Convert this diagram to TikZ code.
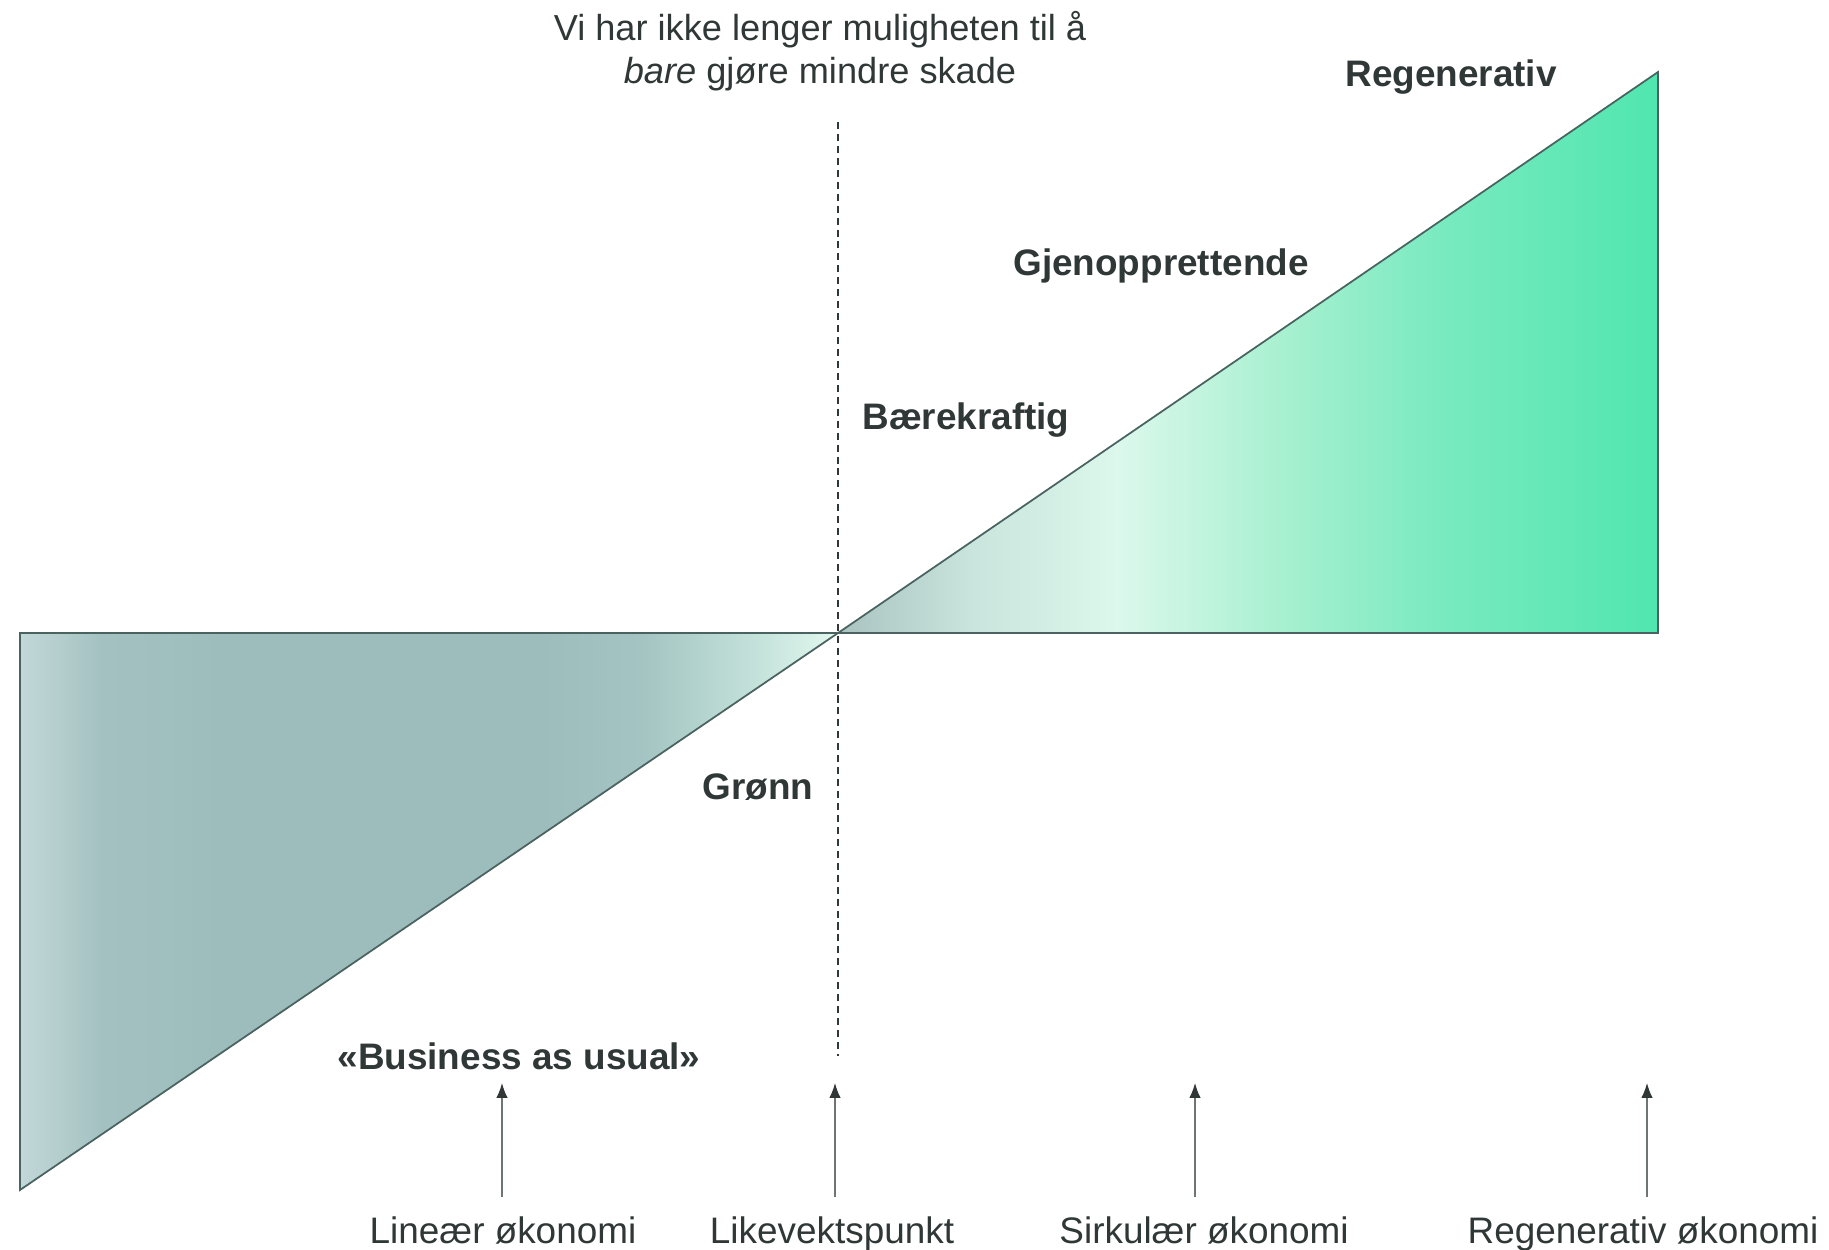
\documentclass[tikz,border=0pt]{standalone}
\usepackage{fontspec}
\setmainfont{Liberation Sans}
\usepackage{xcolor}
\usetikzlibrary{arrows.meta}

\definecolor{edgecol}{HTML}{4A6361}
\definecolor{inkcol}{HTML}{2F3836}
\definecolor{stemcol}{HTML}{6E7674}
\definecolor{lgA}{HTML}{C3D8D8}
\definecolor{lgB}{HTML}{A4C1C1}
\definecolor{lgC}{HTML}{9DBDBD}
\definecolor{lgD}{HTML}{A3C4C2}
\definecolor{lgE}{HTML}{C4E2DA}
\definecolor{lgF}{HTML}{E2F8EF}
\definecolor{rgA}{HTML}{A9C3C0}
\definecolor{rgB}{HTML}{C8E4DC}
\definecolor{rgC}{HTML}{DCF8EC}
\definecolor{rgD}{HTML}{A8F0D0}
\definecolor{rgE}{HTML}{78EAC0}
\definecolor{rgF}{HTML}{50E6AF}

\pgfdeclarehorizontalshading{leftfade}{100bp}{color(0bp)=(lgA); color(25bp)=(lgA);
  color(30bp)=(lgB); color(37bp)=(lgC); color(57bp)=(lgC); color(63bp)=(lgD);
  color(70bp)=(lgE); color(75bp)=(lgF); color(100bp)=(lgF)}
\pgfdeclarehorizontalshading{rightfade}{100bp}{color(0bp)=(rgA); color(25bp)=(rgA);
  color(33bp)=(rgB); color(42bp)=(rgC); color(52bp)=(rgD); color(62bp)=(rgE);
  color(75bp)=(rgF); color(100bp)=(rgF)}

\tikzset{
  edge/.style={draw=edgecol, line width=1pt, line join=miter},
  dashline/.style={draw=inkcol, line width=0.7pt, dash pattern=on 4pt off 2.8pt},
  upline/.style={draw=stemcol, line width=0.75pt, -{Latex[length=8.5pt,width=6.5pt,color=inkcol]}},
  stage/.style={text=inkcol, font=\fontsize{21}{25}\selectfont\bfseries, inner sep=0pt},
  axislabel/.style={text=inkcol, font=\fontsize{21}{25}\selectfont, inner sep=0pt, anchor=base},
  heading/.style={text=inkcol, font=\fontsize{20.6}{24.6}\selectfont, align=center, inner sep=0pt}
}

\begin{document}
\begin{tikzpicture}[x=0.02cm, y=-0.02cm]
\useasboundingbox (0,0) rectangle (1829,1250);

% corners of the two triangles
\coordinate (midpt) at (838,633);
\coordinate (lefttop) at (20,633);
\coordinate (leftbot) at (20,1190);
\coordinate (righttop) at (1658,72);
\coordinate (rightbot) at (1658,633);

\shade[shading=leftfade] (lefttop) -- (midpt) -- (leftbot) -- cycle;
\shade[shading=rightfade] (midpt) -- (righttop) -- (rightbot) -- cycle;
\draw[edge] (lefttop) -- (midpt) -- (leftbot) -- cycle;
\draw[edge] (midpt) -- (righttop) -- (rightbot) -- cycle;

% the dashed line
\coordinate (dashtop) at (838,122);
\coordinate (dashbot) at (838,1056);
\draw[dashline] (dashtop) -- (dashbot);

\node[heading] (heading) at (820,51) {Vi har ikke lenger muligheten til å\\\textit{bare} gjøre mindre skade};

% stages
\node[stage] (regen) at (1451,77) {Regenerativ};
\node[stage] (gjen) at (1161,266) {Gjenopprettende};
\node[stage] (baere) at (966,420) {Bærekraftig};
\node[stage] (gronn) at (758,787) {Grønn};
\node[stage] (bau) at (519,1056) {«Business as usual»};

% axis labels
\node[axislabel] (linear) at (503,1243) {Lineær økonomi};
\node[axislabel] (likevekt) at (832,1243) {Likevektspunkt};
\node[axislabel] (sirk) at (1204,1243) {Sirkulær økonomi};
\node[axislabel] (regok) at (1643,1243) {Regenerativ økonomi};

% arrows
\coordinate (baseA) at (502,1197); \coordinate (tipA) at (502,1083);
\coordinate (baseB) at (835,1197); \coordinate (tipB) at (835,1083);
\coordinate (baseC) at (1195,1197); \coordinate (tipC) at (1195,1083);
\coordinate (baseD) at (1647,1197); \coordinate (tipD) at (1647,1083);
\draw[upline] (baseA) -- (tipA);
\draw[upline] (baseB) -- (tipB);
\draw[upline] (baseC) -- (tipC);
\draw[upline] (baseD) -- (tipD);
\end{tikzpicture}
\end{document}
